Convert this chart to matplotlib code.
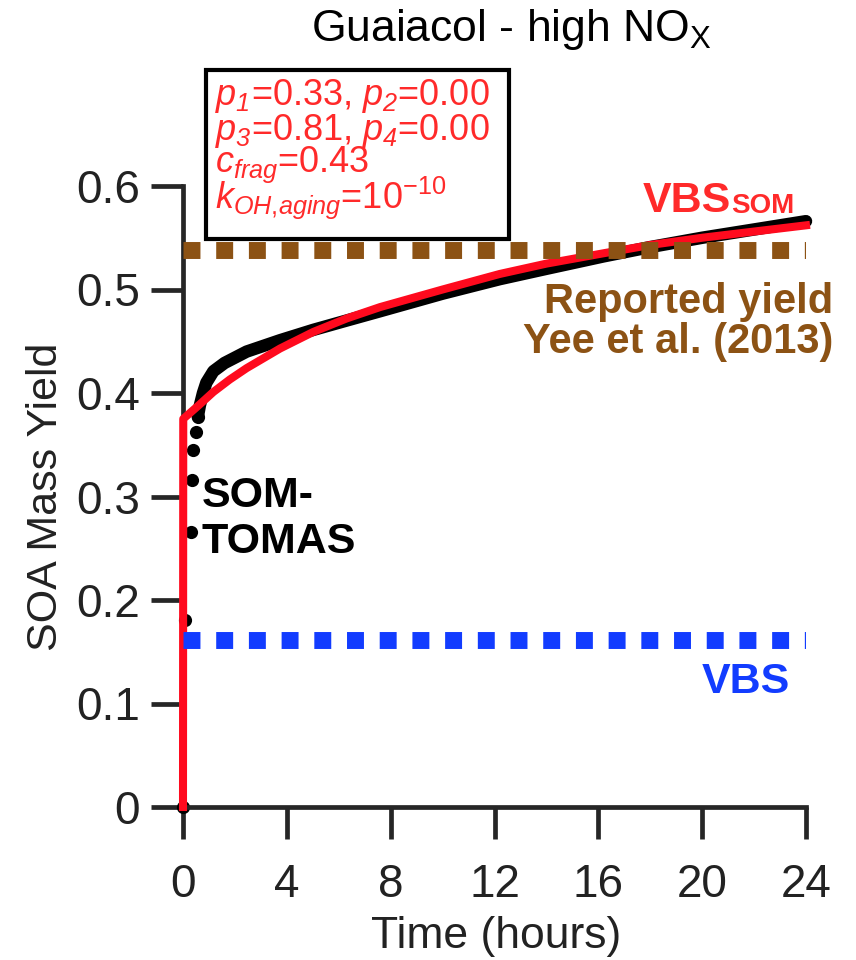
import matplotlib.pyplot as plt
from matplotlib.patches import Rectangle

plt.rcParams['font.family'] = ['Liberation Sans', 'DejaVu Sans']
plt.rcParams['mathtext.fontset'] = 'custom'
plt.rcParams['mathtext.rm'] = 'Liberation Sans'
plt.rcParams['mathtext.it'] = 'Liberation Sans:italic'
plt.rcParams['mathtext.bf'] = 'Liberation Sans:bold'
plt.rcParams['mathtext.sf'] = 'Liberation Sans:italic'

# SOM-TOMAS model (black dots)
som_time = [0, 0.08, 0.31, 0.33, 0.39, 0.49, 0.57, 0.65, 0.77, 0.9, 1.17, 1.6, 2.45, 3.74,
            5.02, 6.3, 7.59, 10, 12.2, 14, 16.2, 18, 20, 22, 24]
som_yield = [0, 0.181, 0.266, 0.316, 0.345, 0.362, 0.377, 0.388, 0.400, 0.41, 0.421, 0.429,
             0.44, 0.451, 0.461, 0.47, 0.479, 0.496, 0.51, 0.52, 0.532, 0.541, 0.55, 0.558, 0.566]
n_dots = 7  # the first points are seen as separate dots

# VBS_SOM fit (red line)
vbssom_time = [0, 0.01, 0.6, 1.17, 1.8, 2.45, 3.74, 5.02, 6.3, 7.59, 10, 12.2, 14, 16.2,
               18, 20, 22, 24]
vbssom_yield = [0, 0.375, 0.388, 0.401, 0.413, 0.424, 0.443, 0.459, 0.472, 0.483, 0.5,
                0.515, 0.525, 0.535, 0.543, 0.55, 0.556, 0.562]

reported_yield = 0.538  # Yee et al. (2013)
vbs_yield = 0.161

x_ticks = [0, 4, 8, 12, 16, 20, 24]
y_ticks = [0, 0.1, 0.2, 0.3, 0.4, 0.5, 0.6]
y_tick_labels = ['0', '0.1', '0.2', '0.3', '0.4', '0.5', '0.6']

params_lines = [r'$p_{\mathsf{1}}$=0.33, $p_{\mathsf{2}}$=0.00',
                r'$p_{\mathsf{3}}$=0.81, $p_{\mathsf{4}}$=0.00',
                r'$c_{frag}$=0.43',
                r'$k_{OH{,}aging}$=10$^{\mathrm{-10}}$']

RED = '#ff0a1e'
TXT_RED = '#ff2a2a'
BROWN = '#8c5214'
BLUE = '#123cff'
DARK = '#222222'

W, H = 856, 960


def fx(px):
    return px / W


def fy(py):
    return 1 - py / H


fig = plt.figure(figsize=(W / 100, H / 100), dpi=100)
ax = fig.add_axes([fx(183), fy(807), (806 - 183) / W, (807 - 186) / H])

ax.plot(som_time[n_dots - 1:], som_yield[n_dots - 1:], color='black', lw=9,
        solid_capstyle='round', solid_joinstyle='round', clip_on=False, zorder=2)
ax.plot(som_time[:n_dots], som_yield[:n_dots], 'o', ms=9.5, color='black', mew=0,
        clip_on=False, zorder=2)
ax.plot(vbssom_time, vbssom_yield, color=RED, lw=5.8, solid_joinstyle='round',
        clip_on=False, zorder=3)

# dashed yields drawn on top of the curves
ax.axhline(reported_yield, color=BROWN, lw=12.2, dashes=(1.0, 0.93), dash_capstyle='butt', zorder=4)
ax.axhline(vbs_yield, color=BLUE, lw=12.2, dashes=(1.0, 0.93), dash_capstyle='butt', zorder=4)

ax.set_xlim(0, 24)
ax.set_ylim(0, 0.6)
ax.set_xticks(x_ticks)
ax.set_yticks(y_ticks)
ax.set_yticklabels(y_tick_labels)
for s in ['top', 'right']:
    ax.spines[s].set_visible(False)
for s in ['left', 'bottom']:
    ax.spines[s].set_linewidth(3.4)
    ax.spines[s].set_color('#262626')
ax.tick_params(direction='out', length=23, width=3.4, color='#262626',
               labelsize=33, labelcolor=DARK)
ax.tick_params(axis='x', pad=17)
ax.tick_params(axis='y', pad=8)

# axis labels and title
fig.text(fx(46), fy(497), 'SOA Mass Yield', rotation=90, ha='center', va='center',
         fontsize=31, color=DARK)
fig.text(fx(496), fy(948), 'Time (hours)', ha='center', va='baseline', fontsize=32, color=DARK)
fig.text(fx(311), fy(41), r'Guaiacol - high NO$_{\mathrm{X}}$', ha='left', va='baseline',
         fontsize=32, color='black')

# parameter box
fig.add_artist(Rectangle((fx(205.5), fy(238.5)), (509 - 205.5) / W, (238.5 - 70) / H,
                         transform=fig.transFigure, fill=False, lw=3, ec='black'))
for txt, base in zip(params_lines, [105, 140, 172, 208]):
    fig.text(fx(215), fy(base), txt, ha='left', va='baseline', fontsize=26, color=TXT_RED)

# series labels
fig.text(fx(202), fy(507), 'SOM-', ha='left', va='baseline', fontsize=31,
         fontweight='bold', color='black')
fig.text(fx(202), fy(553), 'TOMAS', ha='left', va='baseline', fontsize=31,
         fontweight='bold', color='black')
fig.text(fx(643), fy(212), 'VBS', ha='left', va='baseline', fontsize=31,
         fontweight='bold', color=TXT_RED)
fig.text(fx(731), fy(213), 'SOM', ha='left', va='baseline', fontsize=20,
         fontweight='bold', color=TXT_RED)
fig.text(fx(833), fy(313), 'Reported yield', ha='right', va='baseline', fontsize=30,
         fontweight='bold', color=BROWN)
fig.text(fx(833), fy(353), 'Yee et al. (2013)', ha='right', va='baseline', fontsize=30,
         fontweight='bold', color=BROWN)
fig.text(fx(746), fy(693), 'VBS', ha='center', va='baseline', fontsize=31,
         fontweight='bold', color=BLUE)

fig.savefig('out.png', dpi=100)
